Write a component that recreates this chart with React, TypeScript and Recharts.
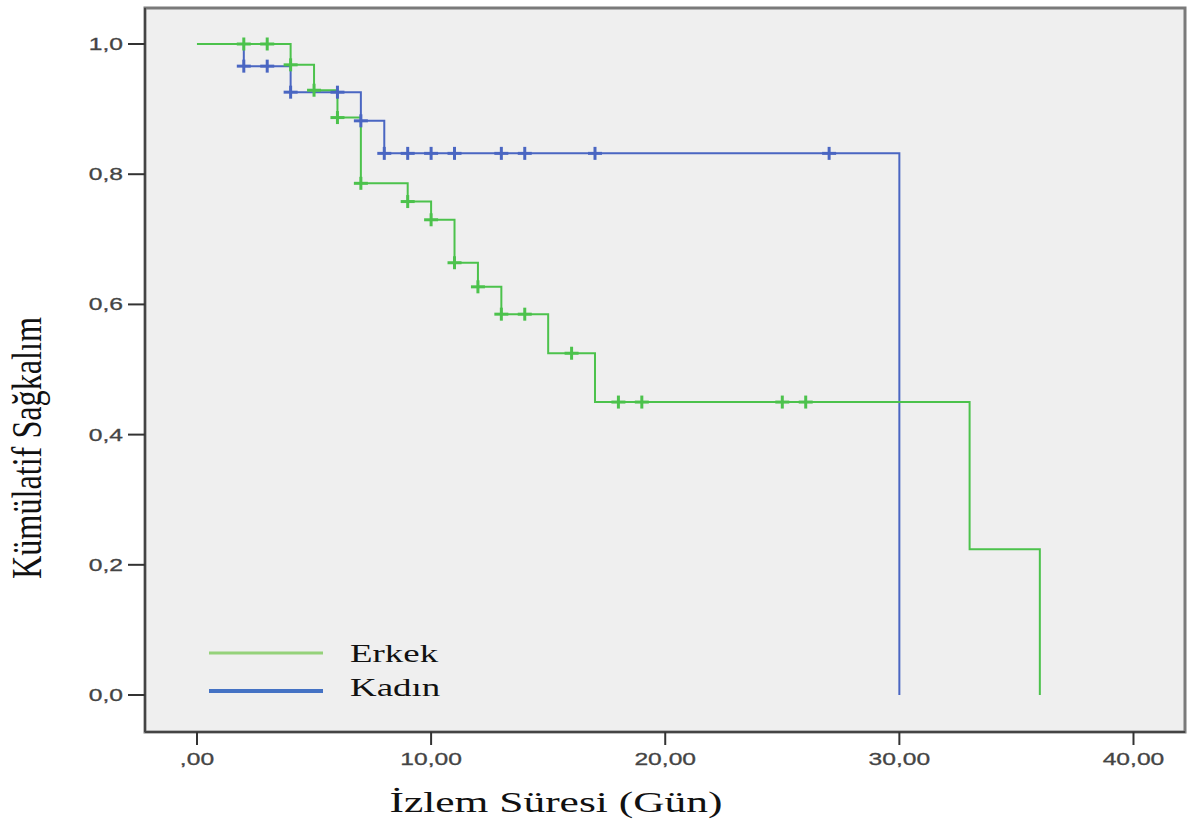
import {
  ComposedChart,
  Line,
  Scatter,
  XAxis,
  YAxis,
  ReferenceArea,
  Label,
} from "recharts"

// Kaplan-Meier steps
const erkekTimes = [0, 4, 5, 6, 7, 9, 10, 11, 12, 13, 15, 17, 33, 36]
const erkekSurv = [1.0, 0.968, 0.929, 0.887, 0.786, 0.758, 0.73, 0.664, 0.627, 0.585, 0.525, 0.45, 0.224, 0]
const erkekCensored = [2, 3, 4, 5, 6, 7, 9, 10, 11, 12, 13, 14, 16, 18, 19, 25, 26]

const kadinTimes = [0, 2, 4, 7, 8, 30]
const kadinSurv = [1.0, 0.966, 0.926, 0.882, 0.832, 0]
const kadinCensored = [2, 3, 4, 6, 7, 8, 9, 10, 11, 13, 14, 17, 27]

const xTicks = [0, 10, 20, 30, 40]
const yTicks = [0, 0.2, 0.4, 0.6, 0.8, 1.0]

const GREEN = "#4cc24c"
const BLUE = "#4a66c2"
const TICK_COLOR = "#444"
const STRETCH = 1.45

const survAt = (times: number[], surv: number[], t: number) => {
  let v = surv[0]
  times.forEach((tt, i) => {
    if (tt <= t) v = surv[i]
  })
  return v
}

const erkekData = erkekTimes.map((t, i) => ({ t, s: erkekSurv[i] }))
const kadinData = kadinTimes.map((t, i) => ({ t, s: kadinSurv[i] }))
const erkekMarks = erkekCensored.map((t) => ({ t, s: survAt(erkekTimes, erkekSurv, t) }))
const kadinMarks = kadinCensored.map((t) => ({ t, s: survAt(kadinTimes, kadinSurv, t) }))

const xFmt = (v: number) => (v === 0 ? ",00" : `${v},00`)
const yFmt = (v: number) => v.toFixed(1).replace(".", ",")

const plus = (color: string) => (props: any) => {
  const { cx, cy } = props
  return (
    <g stroke={color} strokeWidth={3}>
      <line x1={cx - 7} x2={cx + 7} y1={cy} y2={cy} />
      <line x1={cx} x2={cx} y1={cy - 6.5} y2={cy + 6.5} />
    </g>
  )
}

const XTick = (props: any) => {
  const { x, y, payload } = props
  return (
    <text
      transform={`translate(${x},${y + 18}) scale(${STRETCH},1)`}
      textAnchor="middle"
      fontFamily="Liberation Sans, Arial, sans-serif"
      fontSize={17}
      fill={TICK_COLOR}
      stroke={TICK_COLOR}
      strokeWidth={0.3}
    >
      {xFmt(payload.value)}
    </text>
  )
}

const YTick = (props: any) => {
  const { x, y, payload } = props
  return (
    <text
      transform={`translate(${x - 3},${y + 6}) scale(${STRETCH},1)`}
      textAnchor="end"
      fontFamily="Liberation Sans, Arial, sans-serif"
      fontSize={17}
      fill={TICK_COLOR}
      stroke={TICK_COLOR}
      strokeWidth={0.3}
    >
      {yFmt(payload.value)}
    </text>
  )
}

const LegendBox = () => (
  <svg
    width={260}
    height={90}
    style={{ position: "absolute", left: 200, top: 630, overflow: "visible" }}
  >
    <line x1={9} x2={123} y1={23} y2={23} stroke="#95d27a" strokeWidth={3} />
    <line x1={9} x2={123} y1={61} y2={61} stroke="#4472c4" strokeWidth={4} />
    <text
      transform="translate(150,32) scale(1.42,1)"
      fontFamily="Liberation Serif, Times New Roman, serif"
      fontSize={26}
      fill="#111"
    >
      Erkek
    </text>
    <text
      transform="translate(150,66) scale(1.42,1)"
      fontFamily="Liberation Serif, Times New Roman, serif"
      fontSize={26}
      fill="#111"
    >
      Kadın
    </text>
  </svg>
)

const App = () => {
  return (
    <div style={{ position: "absolute", left: 0, top: 0, background: "#fff" }}>
      <ComposedChart
        width={1189}
        height={823}
        margin={{ top: 8, right: 4, left: 0, bottom: 0 }}
      >
        <ReferenceArea
          x1={-2.22}
          x2={42.2}
          y1={-0.0568}
          y2={1.0553}
          fill="#efefef"
          fillOpacity={1}
          stroke="#7a7a7a"
          strokeWidth={3}
        />
        <XAxis
          type="number"
          dataKey="t"
          domain={[-2.22, 42.2]}
          allowDataOverflow
          ticks={xTicks}
          height={91}
          tickSize={13}
          axisLine={{ stroke: "#444", strokeWidth: 2 }}
          tickLine={{ stroke: "#333", strokeWidth: 2 }}
          tick={<XTick />}
        >
          <Label
            content={() => (
              <text
                x={556}
                y={812}
                textAnchor="middle"
                textLength={333}
                lengthAdjust="spacingAndGlyphs"
                fontFamily="Liberation Serif, Times New Roman, serif"
                fontSize={30}
                fill="#111"
              >
                İzlem Süresi (Gün)
              </text>
            )}
          />
        </XAxis>
        <YAxis
          type="number"
          dataKey="s"
          domain={[-0.0568, 1.0553]}
          allowDataOverflow
          ticks={yTicks}
          width={145}
          tickSize={17}
          axisLine={{ stroke: "#444", strokeWidth: 2 }}
          tickLine={{ stroke: "#333", strokeWidth: 2 }}
          tick={<YTick />}
        >
          <Label
            content={() => (
              <text
                transform="translate(41,448) rotate(-90) scale(1,1.4)"
                textAnchor="middle"
                textLength={262}
                lengthAdjust="spacingAndGlyphs"
                fontFamily="Liberation Serif, Times New Roman, serif"
                fontSize={30}
                fill="#111"
              >
                Kümülatif Sağkalım
              </text>
            )}
          />
        </YAxis>
        <Line
          data={kadinData}
          dataKey="s"
          type="stepAfter"
          stroke={BLUE}
          strokeWidth={2}
          dot={false}
          isAnimationActive={false}
          legendType="none"
        />
        <Line
          data={erkekData}
          dataKey="s"
          type="stepAfter"
          stroke={GREEN}
          strokeWidth={2}
          dot={false}
          isAnimationActive={false}
          legendType="none"
        />
        <Scatter
          data={kadinMarks}
          dataKey="s"
          shape={plus(BLUE)}
          isAnimationActive={false}
          legendType="none"
        />
        <Scatter
          data={erkekMarks}
          dataKey="s"
          shape={plus(GREEN)}
          isAnimationActive={false}
          legendType="none"
        />
      </ComposedChart>
      <LegendBox />
    </div>
  )
}

export default App
